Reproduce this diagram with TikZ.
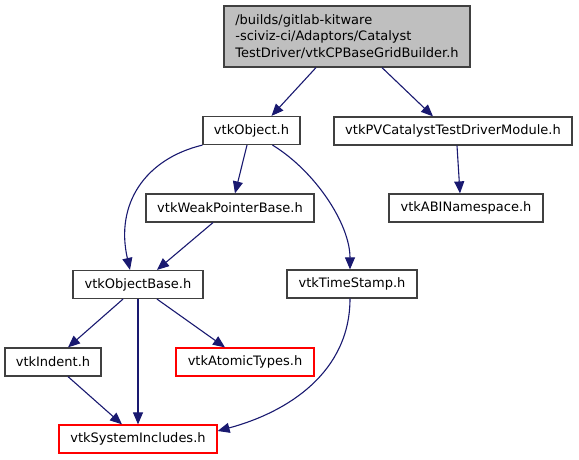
\documentclass[tikz,border=0pt]{standalone}
\usepackage{fontspec}
\setmainfont{DejaVu Sans}
\usetikzlibrary{arrows.meta}

\definecolor{edgeblue}{RGB}{25,25,112}

\begin{document}
\begin{tikzpicture}[x=1pt, y=1pt, >={Triangle[length=12pt,width=10pt]}]

\tikzset{
  hdr/.style={
    rectangle, draw=black!75, fill=white, line width=1.2pt,
    minimum height=28pt, inner sep=0pt,
    font=\fontsize{13}{16.7}\selectfont
  },
  root/.style={hdr, fill=black!25, align=left, minimum height=61pt},
  missing/.style={hdr, draw=red},
  dep/.style={->, draw=edgeblue, line width=1.1pt}
}

\useasboundingbox (0,0) rectangle (579,459);

% ==========================
% Nodos (cabeceras)
% ==========================
\node[root, minimum width=246pt] (cpbase) at (347,422.5)
  {/builds/gitlab-kitware\\-sciviz-ci/Adaptors/Catalyst\\TestDriver/vtkCPBaseGridBuilder.h};

\node[hdr, minimum width=97pt]  (object)   at (251.5,328.5) {vtkObject.h};
\node[hdr, minimum width=238pt] (pvmodule) at (453,328)     {vtkPVCatalystTestDriverModule.h};
\node[hdr, minimum width=168pt] (weakptr)  at (230,251)     {vtkWeakPointerBase.h};
\node[hdr, minimum width=154pt] (abins)    at (466,251)     {vtkABINamespace.h};
\node[hdr, minimum width=130pt] (objbase)  at (138,174.5)   {vtkObjectBase.h};
\node[hdr, minimum width=130pt] (tstamp)   at (352,175)     {vtkTimeStamp.h};
\node[hdr, minimum width=96pt]  (indent)   at (53,97)       {vtkIndent.h};
\node[missing, minimum width=138pt] (atomic) at (245,97)    {vtkAtomicTypes.h};
\node[missing, minimum width=158pt] (sysinc) at (138,20)    {vtkSystemIncludes.h};

% ==========================
% Dependencias
% ==========================
\draw[dep] ([xshift=-31pt]cpbase.south) -- ([xshift=20pt]object.north);
\draw[dep] ([xshift=35pt]cpbase.south) -- ([xshift=-20pt]pvmodule.north);

\draw[dep] ([xshift=-4.5pt]object.south) -- ([xshift=5pt]weakptr.north);
\draw[dep] (object.south west) .. controls (145,300) and (115,255) .. ([xshift=-8pt]objbase.north);
\draw[dep] ([xshift=21pt]object.south) .. controls (315,288) and (350,235) .. ([xshift=-2pt]tstamp.north);

\draw[dep] ([xshift=4pt]pvmodule.south) -- ([xshift=-6pt]abins.north);
\draw[dep] ([xshift=-17pt]weakptr.south) -- ([xshift=19pt]objbase.north);

\draw[dep] ([xshift=-15pt]objbase.south) -- ([xshift=15pt]indent.north);
\draw[dep] (objbase.south) -- (sysinc.north);
\draw[dep] ([xshift=19pt]objbase.south) -- ([xshift=-20pt]atomic.north);

\draw[dep] ([xshift=15pt]indent.south) -- ([xshift=-16pt]sysinc.north);
\draw[dep] ([xshift=-2pt]tstamp.south) to[out=-90, in=15] ([yshift=8pt]sysinc.east);

\end{tikzpicture}
\end{document}
